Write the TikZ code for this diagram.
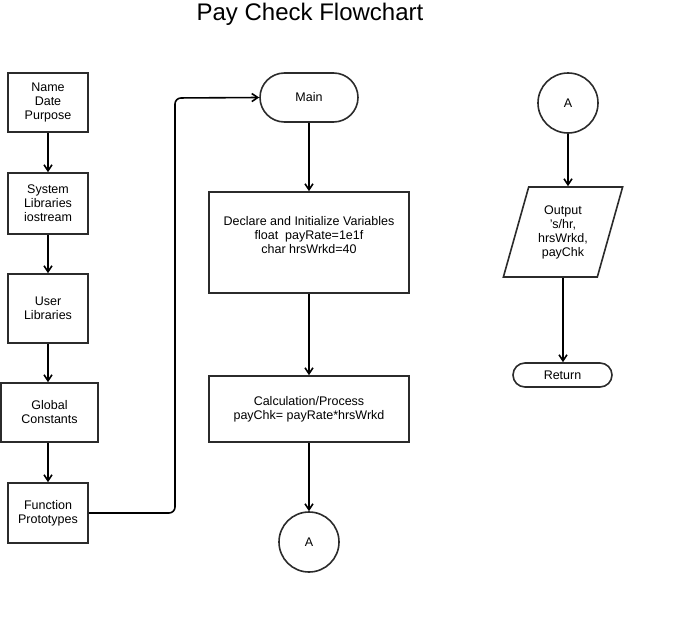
\documentclass[tikz,border=0pt]{standalone}
\usepackage{fontspec}
\setmainfont{Liberation Sans}
\usetikzlibrary{arrows.meta,shapes.geometric,shapes.misc}
\definecolor{Edge}{HTML}{2B2B2B}
\tikzset{
    box/.style={draw=Edge,line width=1.6pt,align=center,font=\fontsize{12.5}{14}\selectfont,inner sep=0pt},
    term/.style={box,rounded rectangle},
    conn/.style={box,circle},
    io/.style={box,trapezium,trapezium left angle=71,trapezium right angle=109,trapezium stretches=true},
    flow/.style={line width=1.6pt,-{Straight Barb[length=6pt,width=8pt]}}
}

\begin{document}
\begin{tikzpicture}[x=1pt,y=-1pt]
    \useasboundingbox (0,0) rectangle (676,626);
    \node at (310,14) {\fontsize{24}{28}\selectfont Pay Check Flowchart};

    % left column
    \node[box,minimum width=80pt,minimum height=59pt] (name) at (48,102.5) {Name\\Date\\Purpose};
    \node[box,minimum width=80pt,minimum height=61pt] (sys) at (48,203.5) {System\\Libraries\\iostream};
    \node[box,minimum width=80pt,minimum height=69pt] (usr) at (48,308.5) {User\\Libraries};
    \node[box,minimum width=97pt,minimum height=59pt] (glob) at (49.5,412.5) {Global\\Constants};
    \node[box,minimum width=80pt,minimum height=60pt] (proto) at (48,513) {Function\\Prototypes};

    % middle column
    \node[term,minimum width=98pt,minimum height=49pt] (main) at (309,97.5) {Main};
    \node[box,minimum width=200pt,minimum height=101pt,text depth=15pt] (decl) at (309,242.5)
        {Declare and Initialize Variables\\float\ \ payRate=1e1f\\char hrsWrkd=40};
    \node[box,minimum width=200pt,minimum height=66pt] (calc) at (309,409)
        {Calculation/Process\\payChk= payRate*hrsWrkd};
    \node[conn,minimum size=60pt] (conA) at (309,542) {A};

    % right column
    \node[conn,minimum size=60pt] (conB) at (568,103) {A};
    \node[io,minimum width=120pt,minimum height=90pt] (out) at (563,232) {Output\\'s/hr,\\hrsWrkd,\\payChk};
    \node[term,minimum width=99pt,minimum height=24pt] (ret) at (562.5,375) {Return};

    \draw[flow] (name) -- (sys);
    \draw[flow] (sys) -- (usr);
    \draw[flow] (usr) -- (glob.north -| usr);
    \draw[flow] (glob.south -| proto) -- (proto);
    \draw[flow,rounded corners=6pt] (proto.east) -- (175,513) -- (175,98) -- (main.west);
    \draw[flow] (main) -- (decl);
    \draw[flow] (decl) -- (calc);
    \draw[flow] (calc) -- (conA);
    \draw[flow] (conB.south) -- (conB.south |- out.north);
    \draw[flow] (out.south) -- (ret.north -| out.south);
\end{tikzpicture}
\end{document}
